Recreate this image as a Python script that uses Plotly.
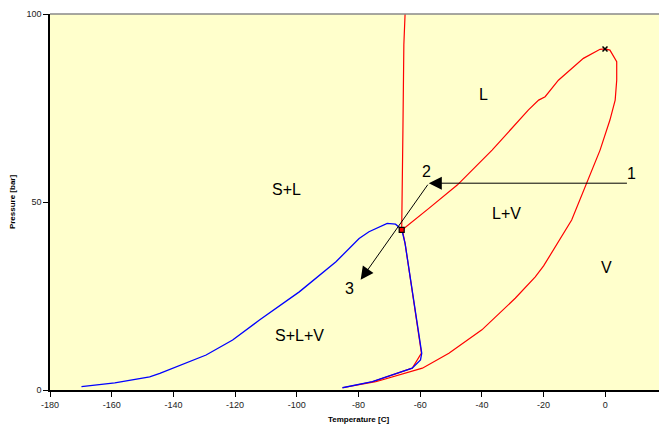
import plotly.graph_objects as go

# Phase envelope (red loop), temperature [C] / pressure [bar]
env_T = [-85.2, -74.4, -59.3, -50.7, -40.0, -29.2, -22.7, -20.0, -10.9, -4.4, -1.7, 1.5, 3.2, 3.7, 3.7,
         1.5, -0.1, -1.7, -7.1, -15.2, -19.5, -21.6, -24.9, -36.7, -48.0, -57.2, -65.8,
         -64.9, -59.6, -62.6, -75.5, -85.2]
env_P = [0.6, 2.2, 5.8, 9.8, 16.0, 24.4, 30.1, 33.0, 45.2, 58.5, 63.8, 71.8, 77.1, 82.4, 87.3,
         90.4, 90.7, 90.6, 88.2, 82.4, 78.0, 77.1, 74.5, 63.8, 54.5, 48.3, 42.6,
         39.0, 9.8, 5.8, 2.2, 0.6]

# Melting line (red vertical)
melt_T = [-66.0, -65.8, -65.6, -65.3, -64.9]
melt_P = [42.6, 64.7, 69.0, 91.8, 100.0]

# Solid boundary (blue)
sol_T = [-169.8, -159.0, -147.7, -144.4, -129.4, -120.8, -112.1, -99.2, -87.3, -79.8, -76.6, -70.7, -68.0,
         -66.0, -64.9, -59.5, -59.9, -62.6, -75.5, -85.2]
sol_P = [0.9, 1.9, 3.5, 4.4, 9.3, 13.3, 18.6, 26.1, 34.1, 40.3, 42.1, 44.3, 44.1,
         42.7, 39.0, 9.8, 8.0, 5.8, 2.2, 0.6]

# Special points
triple_T, triple_P = [-66.0], [42.6]
crit_T, crit_P = [-0.1], [90.7]

# Region labels
region_text = ["L", "S+L", "L+V", "V", "S+L+V"]
region_T = [-39.4, -103.4, -32.0, 0.3, -99.2]
region_P = [78.5, 53.2, 47.0, 32.7, 14.6]

# Process path 1 -> 2 -> 3
path_labels = ["1", "2", "3"]
path_T = [7.5, -57.2, -79.3]
path_P = [55.0, 55.0, 29.3]
lab_T = [8.6, -57.8, -83.0]
lab_P = [57.6, 58.2, 27.0]

x_ticks = list(range(-180, 21, 20))
x_ticktext = [str(v) for v in x_ticks]
y_ticks = [0, 50, 100]
y_ticktext = [str(v) for v in y_ticks]

fig = go.Figure()
fig.add_trace(go.Scatter(x=env_T, y=env_P, mode="lines", line=dict(color="#FF0000", width=1.2),
                         showlegend=False, hoverinfo="skip"))
fig.add_trace(go.Scatter(x=melt_T, y=melt_P, mode="lines", line=dict(color="#FF0000", width=1.2),
                         showlegend=False, hoverinfo="skip"))
fig.add_trace(go.Scatter(x=sol_T, y=sol_P, mode="lines", line=dict(color="#0000FF", width=1.3),
                         showlegend=False, hoverinfo="skip"))
fig.add_trace(go.Scatter(x=triple_T, y=triple_P, mode="markers",
                         marker=dict(symbol="square", size=5, color="#FF0000",
                                     line=dict(color="black", width=1.2)),
                         showlegend=False, hoverinfo="skip"))
fig.add_trace(go.Scatter(x=crit_T, y=crit_P, mode="markers",
                         marker=dict(symbol="x-thin", size=5, color="black",
                                     line=dict(color="black", width=1.5)),
                         showlegend=False, hoverinfo="skip"))

for t, x, y in zip(region_text, region_T, region_P):
    fig.add_annotation(x=x, y=y, text=t, showarrow=False,
                       font=dict(family="Liberation Sans, Arial", size=16, color="black"))

for t, x, y in zip(path_labels, lab_T, lab_P):
    fig.add_annotation(x=x, y=y, text=t, showarrow=False,
                       font=dict(family="Liberation Sans, Arial", size=16, color="black"))

for i in range(len(path_T) - 1):
    fig.add_annotation(x=path_T[i + 1], y=path_P[i + 1], ax=path_T[i], ay=path_P[i],
                       xref="x", yref="y", axref="x", ayref="y", text="",
                       showarrow=True, arrowhead=2, arrowsize=2.6, arrowwidth=1,
                       arrowcolor="black")

fig.update_layout(
    width=659, height=416,
    margin=dict(l=42, r=0, t=6, b=34),
    paper_bgcolor="white",
    plot_bgcolor="#FFFFCC",
    font=dict(family="Liberation Sans, Arial", size=9, color="black"),
)
fig.update_xaxes(range=[-180, 20], tickvals=x_ticks, ticktext=x_ticktext, ticks="outside", ticklen=5,
                 tickcolor="black",
                 showgrid=False, zeroline=False, showline=True, linecolor="black", linewidth=1.5,
                 title=dict(text="<b>Temperature [C]</b>", font=dict(size=8), standoff=9),
                 tickfont=dict(size=9, color="#222"))
fig.update_yaxes(range=[0, 100], tickvals=y_ticks, ticktext=y_ticktext, ticks="outside", ticklen=5,
                 tickcolor="black",
                 showgrid=False, zeroline=False, showline=True, linecolor="black", linewidth=1.5,
                 title=dict(text="<b>Pressure [bar]</b>", font=dict(size=8), standoff=10),
                 tickfont=dict(size=9, color="#222"))
fig.add_shape(type="line", xref="paper", yref="paper", x0=0, x1=1, y0=1, y1=1,
              line=dict(color="#888888", width=1.5))

fig.write_html("out.html")
